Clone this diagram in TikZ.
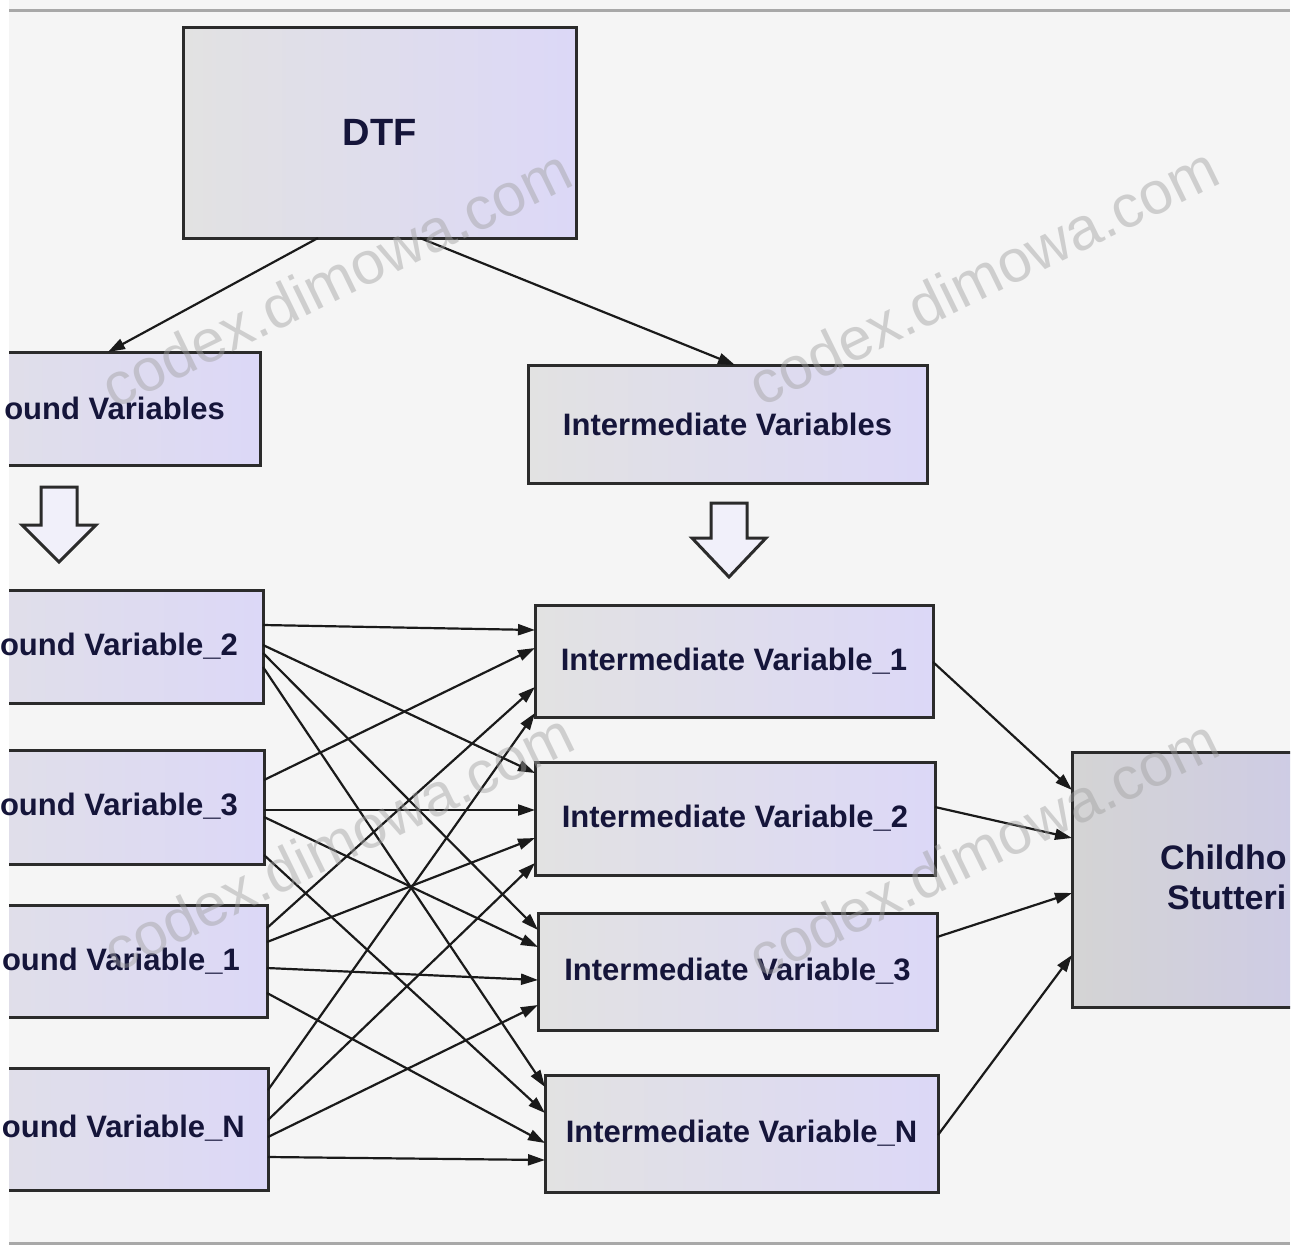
\documentclass[tikz,border=0pt]{standalone}
\usepackage{fontspec}
\setmainfont{Liberation Sans}
\usetikzlibrary{arrows.meta}
\definecolor{bgc}{HTML}{F5F5F5}
\definecolor{rulec}{HTML}{A8A8A8}
\definecolor{edgec}{HTML}{2B2B2B}
\definecolor{boxl}{HTML}{E2E2E2}
\definecolor{boxr}{HTML}{DCD8F7}
\definecolor{csl}{HTML}{D4D4D4}
\definecolor{csr}{HTML}{CBC7EE}
\definecolor{txtc}{HTML}{15153A}
\definecolor{linec}{HTML}{1A1A1A}
\definecolor{wmc}{HTML}{A0A0A0}
\definecolor{hollowc}{HTML}{F1F0FA}
\begin{document}
\begin{tikzpicture}[x=1pt,y=-1pt,
  box/.style={draw=edgec, line width=3pt, left color=boxl, right color=boxr,
    inner sep=0pt, outer sep=0pt, text=txtc,
    font=\fontsize{31}{37}\selectfont\bfseries, align=center},
  csbox/.style={box, left color=csl, right color=csr},
  dtfbox/.style={box, font=\fontsize{38}{44}\selectfont\bfseries},
  lbl/.style={inner sep=0pt, text=txtc, font=\fontsize{31}{37}\selectfont\bfseries},
  cslbl/.style={lbl, anchor=west, font=\fontsize{34}{40}\selectfont\bfseries},
  conn/.style={draw=linec, line width=2.2pt, -{Triangle[length=17pt,width=11pt]}},
  hollow/.style={draw=edgec, line width=3pt, fill=hollowc, line join=miter},
  wm/.style={text=wmc, opacity=0.45, font=\fontsize{60}{60}\selectfont, inner sep=0pt}]
\useasboundingbox (0,0) rectangle (1294,1245);
\fill[white] (0,0) rectangle (1294,1245);
\fill[bgc] (9,0) rectangle (1290,1245);
\begin{scope}
\clip (9,0) rectangle (1290,1245);
\draw[rulec, line width=3pt] (9,10) -- (1290,10);
\draw[rulec, line width=3pt] (9,1243) -- (1290,1243);

% boxes
\node[dtfbox, minimum width=393pt, minimum height=211pt] (dtf) at (379.5,132.5) {DTF};
\node[box, minimum width=397pt, minimum height=113pt] (bv) at (61.5,408.5) {};
\node[box, minimum width=399pt, minimum height=118pt] (iv) at (727.5,424) {Intermediate Variables};

\node[box, minimum width=398pt, minimum height=113pt] (bv2) at (64,646.5) {};
\node[box, minimum width=398pt, minimum height=114pt] (bv3) at (65,807) {};
\node[box, minimum width=398pt, minimum height=112pt] (bv1) at (68,961) {};
\node[box, minimum width=398pt, minimum height=122pt] (bvn) at (69,1129) {};

\node[box, minimum width=398pt, minimum height=112pt] (iv1) at (734,661) {Intermediate Variable\_1};
\node[box, minimum width=400pt, minimum height=113pt] (iv2) at (735,818.5) {Intermediate Variable\_2};
\node[box, minimum width=399pt, minimum height=117pt] (iv3) at (737.5,971.5) {Intermediate Variable\_3};
\node[box, minimum width=393pt, minimum height=117pt] (ivn) at (741.5,1133.5) {Intermediate Variable\_N};

\node[csbox, minimum width=350pt, minimum height=255pt] (cs) at (1247,879.5) {};
\end{scope}

% labels of the boxes that run past the picture's edges (as printed)
\node[lbl, anchor=east] (bvt) at (225,408) {ound Variables};
\node[lbl, anchor=east] (bv2t) at (238,646) {ound Variable\_2};
\node[lbl, anchor=east] (bv3t) at (238,806) {ound Variable\_3};
\node[lbl, anchor=east] (bv1t) at (240,961) {ound Variable\_1};
\node[lbl, anchor=east] (bvnt) at (245,1128) {ound Variable\_N};
\node[cslbl] (cst1) at (1160,857) {Childho};
\node[cslbl] (cst2) at (1167,897) {Stutteri};

% hollow block arrows
\draw[hollow] (41,487) -- (77,487) -- (77,525) -- (96,525) -- (59,562) -- (22,525) -- (41,525) -- cycle;
\draw[hollow] (711,503) -- (747,503) -- (747,538) -- (766,538) -- (729,577) -- (692,538) -- (711,538) -- cycle;

% DTF connectors
\draw[conn] (dtf.south -| 318,0) -- (bv.north -| 108,0);
\draw[conn] (dtf.south -| 420,0) -- (iv.north -| 735,0);

% background -> intermediate
\draw[conn] (bv2.east |- 0,625) -- (iv1.west |- 0,630);
\draw[conn] (bv2.east |- 0,645) -- (iv2.west |- 0,773);
\draw[conn] (bv2.east |- 0,653) -- (iv3.west |- 0,930);
\draw[conn] (bv2.east |- 0,667) -- (ivn.west |- 0,1087);

\draw[conn] (bv3.east |- 0,780) -- (iv1.west |- 0,648);
\draw[conn] (bv3.east |- 0,810) -- (iv2.west |- 0,810);
\draw[conn] (bv3.east |- 0,817) -- (iv3.west |- 0,947);
\draw[conn] (bv3.east |- 0,855) -- (ivn.west |- 0,1113);

\draw[conn] (bv1.east |- 0,928) -- (iv1.west |- 0,687);
\draw[conn] (bv1.east |- 0,942) -- (iv2.west |- 0,838);
\draw[conn] (bv1.east |- 0,968) -- (iv3.west |- 0,980);
\draw[conn] (bv1.east |- 0,993) -- (ivn.west |- 0,1143);

\draw[conn] (bvn.east |- 0,1090) -- (iv1.west |- 0,713);
\draw[conn] (bvn.east |- 0,1120) -- (iv2.west |- 0,863);
\draw[conn] (bvn.east |- 0,1137) -- (iv3.west |- 0,1005);
\draw[conn] (bvn.east |- 0,1157) -- (ivn.west |- 0,1160);

% intermediate -> childhood stuttering
\draw[conn] (iv1.east |- 0,662) -- (cs.west |- 0,790);
\draw[conn] (iv2.east |- 0,807) -- (cs.west |- 0,838);
\draw[conn] (iv3.east |- 0,937) -- (cs.west |- 0,893);
\draw[conn] (ivn.east |- 0,1135) -- (cs.west |- 0,955);

% watermarks
\node[wm, rotate=26] (wm1) at (336,278) {codex.dimowa.com};
\node[wm, rotate=26] (wm2) at (983,276) {codex.dimowa.com};
\node[wm, rotate=26] (wm3) at (338,842) {codex.dimowa.com};
\node[wm, rotate=26] (wm4) at (983,848) {codex.dimowa.com};
\end{tikzpicture}
\end{document}
